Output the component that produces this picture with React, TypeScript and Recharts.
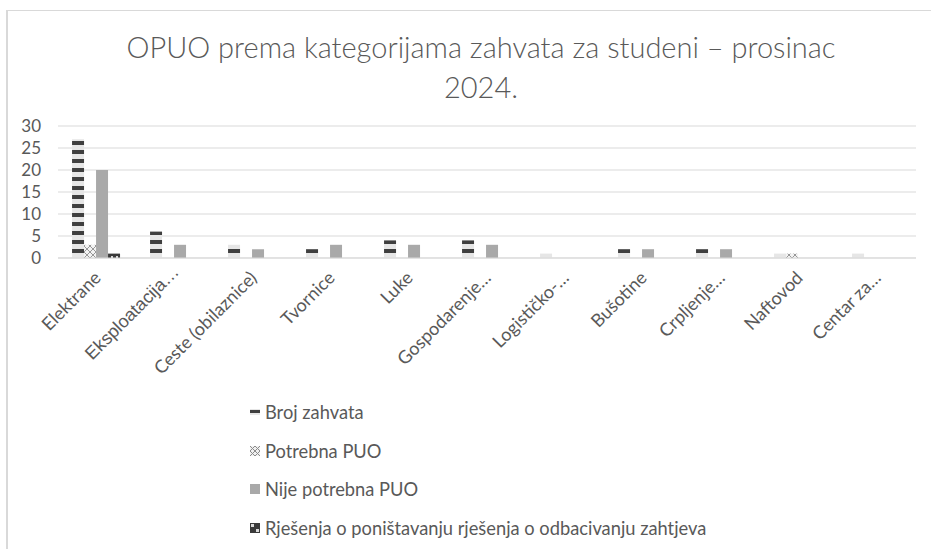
import React from 'react';
import { BarChart, Bar, XAxis, YAxis, CartesianGrid, Legend } from 'recharts';

const categories = [
  'Elektrane',
  'Eksploatacija…',
  'Ceste (obilaznice)',
  'Tvornice',
  'Luke',
  'Gospodarenje…',
  'Logističko-…',
  'Bušotine',
  'Crpljenje…',
  'Naftovod',
  'Centar za…',
];
const brojZahvata = [27, 6, 3, 2, 4, 4, 1, 2, 2, 1, 1];
const potrebnaPUO = [3, 0, 0, 0, 0, 0, 0, 0, 0, 1, 0];
const nijePotrebnaPUO = [20, 3, 2, 3, 3, 3, 0, 2, 2, 0, 0];
const rjesenjaPonistavanje = [1, 0, 0, 0, 0, 0, 0, 0, 0, 0, 0];
const seriesNames = [
  'Broj zahvata',
  'Potrebna PUO',
  'Nije potrebna PUO',
  'Rješenja o poništavanju rješenja o odbacivanju zahtjeva',
];
const yTicks = [0, 5, 10, 15, 20, 25, 30];
const titleLines = ['OPUO prema kategorijama zahvata za studeni – prosinac', '2024.'];

const data = categories.map((c, i) => ({
  name: c,
  broj: brojZahvata[i],
  potrebna: potrebnaPUO[i],
  nije: nijePotrebnaPUO[i],
  rjesenja: rjesenjaPonistavanje[i],
}));

const series = [
  { key: 'broj', name: seriesNames[0], fill: 'url(#patBroj)', icon: 'broj' },
  { key: 'potrebna', name: seriesNames[1], fill: 'url(#patPotrebna)', icon: 'potrebna' },
  { key: 'nije', name: seriesNames[2], fill: '#a9a9a9', icon: 'nije' },
  { key: 'rjesenja', name: seriesNames[3], fill: 'url(#patRjes)', icon: 'rjesenja' },
];

const TEXT = '#595959';
const FONT = 'Lato, "Open Sans", sans-serif';

const XTick = (props: any) => {
  const { x, y, payload } = props;
  const v: string = payload.value;
  const arial = v.startsWith('Eksploatacija');
  const px = x + 5;
  const py = arial ? y + 15 : y + 21;
  return (
    <text
      x={px}
      y={py}
      transform={`rotate(-45 ${px} ${py})`}
      textAnchor="end"
      fill={TEXT}
      fontSize={18}
      fontFamily={arial ? '"Liberation Sans", Arial, sans-serif' : FONT}
    >
      {v}
    </text>
  );
};

const LegendIcon = ({ kind }: { kind: string }) => {
  if (kind === 'broj') {
    return (
      <svg width={10} height={10} style={{ marginRight: 5 }}>
        <rect x={0} y={2} width={10} height={6} fill="#e6e6e6" />
        <rect x={0} y={3} width={10} height={3} fill="#3f3f3f" />
      </svg>
    );
  }
  if (kind === 'potrebna') {
    return (
      <svg width={10} height={10} style={{ marginRight: 5 }}>
        <rect x={0} y={0} width={10} height={10} fill="#f0f0f0" />
        <path d="M0,0 L10,10 M10,0 L0,10 M5,0 L10,5 L5,10 L0,5 Z" stroke="#8c8c8c" strokeWidth={1} fill="none" />
      </svg>
    );
  }
  if (kind === 'nije') {
    return (
      <svg width={10} height={10} style={{ marginRight: 5 }}>
        <rect x={0} y={0} width={10} height={10} fill="#a9a9a9" />
      </svg>
    );
  }
  return (
    <svg width={10} height={10} style={{ marginRight: 5 }}>
      <rect x={0} y={0} width={10} height={10} fill="#3a3a3a" />
      <rect x={1} y={1} width={3} height={3} fill="#d9d9d9" />
      <rect x={6} y={6} width={3} height={3} fill="#d9d9d9" />
    </svg>
  );
};

const LegendContent = () => (
  <div style={{ fontFamily: FONT, fontSize: 18.3, color: TEXT }}>
    {series.map((s) => (
      <div key={s.key} style={{ height: 38.5, display: 'flex', alignItems: 'center', whiteSpace: 'nowrap' }}>
        <LegendIcon kind={s.icon} />
        <span>{s.name}</span>
      </div>
    ))}
  </div>
);

export default function App() {
  return (
    <div style={{ position: 'absolute', left: 0, top: 0, width: 931, height: 549, overflow: 'hidden', background: '#fff' }}>
      <div
        style={{
          position: 'absolute',
          left: 6,
          top: 10,
          width: 940,
          height: 600,
          borderTop: '1px solid #d9d9d9',
          borderLeft: '2px solid #d9d9d9',
        }}
      />
      <div
        style={{
          position: 'absolute',
          left: 0,
          top: 27,
          width: 962,
          textAlign: 'center',
          fontFamily: FONT,
          fontWeight: 300,
          fontSize: 29,
          lineHeight: '40px',
          color: TEXT,
        }}
      >
        {titleLines.map((t) => (
          <div key={t}>{t}</div>
        ))}
      </div>
      <BarChart
        width={931}
        height={549}
        data={data}
        margin={{ top: 126, right: 15, bottom: 261, left: 0 }}
        barCategoryGap="18%"
        barGap={0}
        style={{ position: 'absolute', left: 0, top: 0 }}
      >
        <defs>
          <pattern id="patBroj" patternUnits="userSpaceOnUse" x={0} y={141} width={8} height={9}>
            <rect x={0} y={0} width={8} height={9} fill="#e6e6e6" />
            <rect x={0} y={0} width={8} height={4} fill="#3f3f3f" />
          </pattern>
          <pattern id="patPotrebna" patternUnits="userSpaceOnUse" x={0} y={0} width={6} height={6}>
            <rect x={0} y={0} width={6} height={6} fill="#f2f2f2" />
            <path d="M0,0 L6,6 M6,0 L0,6" stroke="#8c8c8c" strokeWidth={0.9} />
          </pattern>
          <pattern id="patRjes" patternUnits="userSpaceOnUse" x={0} y={0} width={5} height={5}>
            <rect x={0} y={0} width={5} height={5} fill="#3a3a3a" />
            <rect x={1} y={1} width={2} height={2} fill="#d9d9d9" />
          </pattern>
        </defs>
        <CartesianGrid vertical={false} stroke="#d9d9d9" strokeWidth={1} />
        <XAxis
          dataKey="name"
          interval={0}
          tickLine={false}
          tickSize={0}
          tickMargin={0}
          axisLine={{ stroke: '#d9d9d9', strokeWidth: 1 }}
          tick={<XTick />}
          height={30}
        />
        <YAxis
          domain={[0, 30]}
          ticks={yTicks}
          interval={0}
          width={58}
          axisLine={false}
          tickLine={false}
          tickSize={0}
          tickMargin={17}
          tick={{ fill: TEXT, fontSize: 17, fontFamily: FONT }}
        />
        {series.map((s) => (
          <Bar key={s.key} dataKey={s.key} name={s.name} fill={s.fill} isAnimationActive={false} />
        ))}
        <Legend
          layout="vertical"
          align="center"
          verticalAlign="middle"
          content={<LegendContent />}
          wrapperStyle={{ position: 'absolute', left: 250, top: 393, width: 600 }}
        />
      </BarChart>
    </div>
  );
}
